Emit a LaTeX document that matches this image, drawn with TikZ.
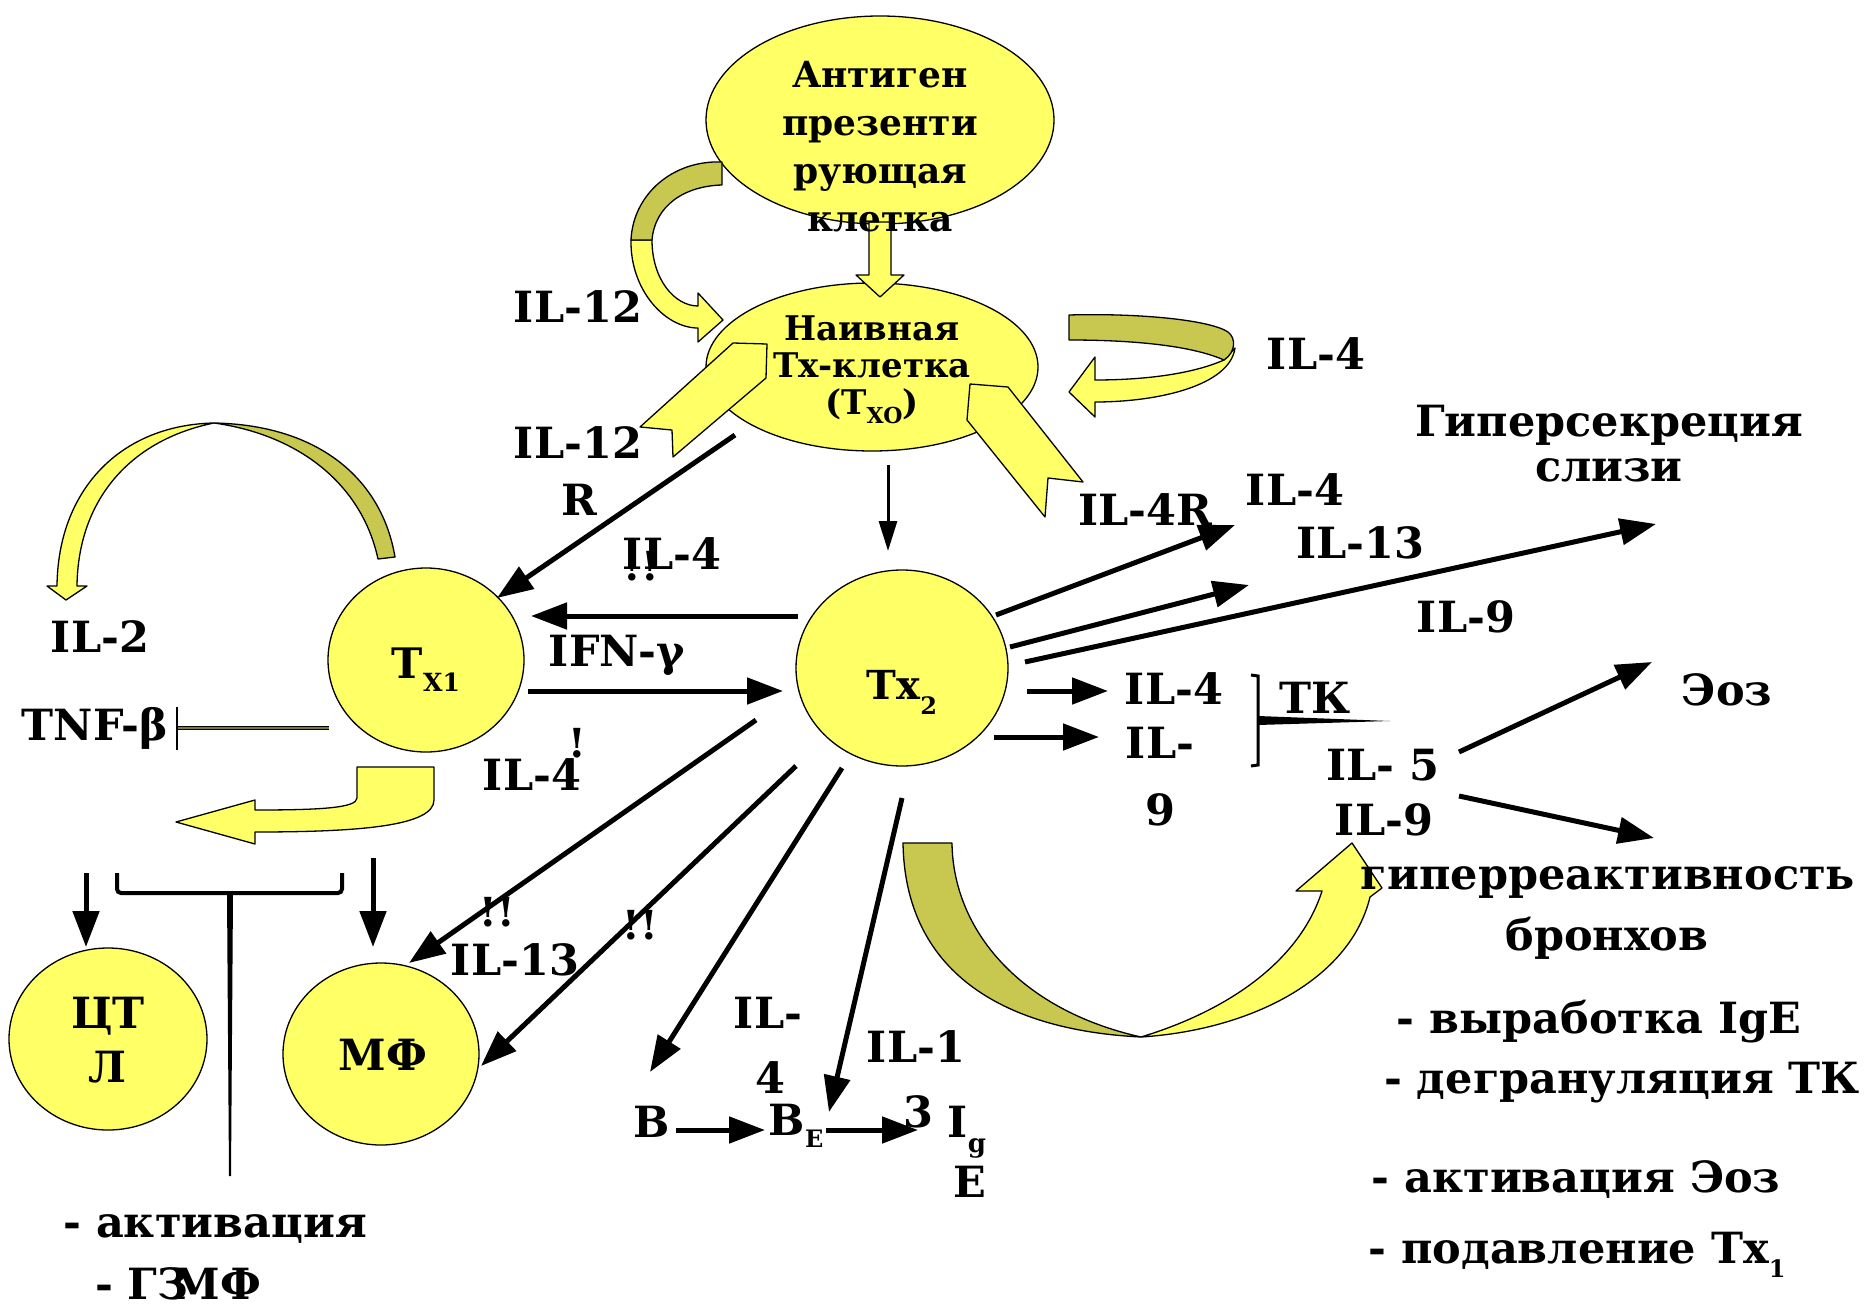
\documentclass[tikz,border=0pt]{standalone}
\usepackage{fontspec}
\setmainfont{DejaVu Serif}
\usetikzlibrary{arrows.meta,calc,shapes.geometric}
\definecolor{cellfill}{HTML}{FFFF66}
\definecolor{backside}{HTML}{C8C850}
\definecolor{tnfline}{HTML}{7A7A3A}

\begin{document}
\begin{tikzpicture}[x=1pt,y=-1pt,
  cell/.style={ellipse,draw=black,line width=1.3pt,fill=cellfill,inner sep=0pt},
  lab/.style={font=\bfseries\fontsize{43}{45}\selectfont,inner sep=0pt},
  celltext/.style={font=\bfseries\fontsize{36}{48}\selectfont,align=center,inner sep=0pt},
  excl/.style={font=\bfseries\fontsize{40}{40}\selectfont,inner sep=0pt},
  band/.style={draw=black,line width=1.3pt,line join=round},
  flow/.style={draw=black,line width=5pt,-{Triangle[length=36pt,width=26pt]}},
  thinflow/.style={draw=black,line width=3pt,-{Triangle[length=30pt,width=18pt]}}
]
\useasboundingbox (0,0) rectangle (1868,1308);
\node[cell,minimum width=348pt,minimum height=208pt] (apc) at (880,120) {};
\node[cell,minimum width=332pt,minimum height=168pt] (naive) at (872,367) {};
\node[cell,minimum width=196pt,minimum height=184pt] (th1) at (426,660) {};
\node[cell,minimum width=212pt,minimum height=196pt] (th2) at (902,668) {};
\node[cell,minimum width=198pt,minimum height=182pt] (ctl) at (108,1039) {};
\node[cell,minimum width=196pt,minimum height=182pt] (mf) at (381,1054) {};

\filldraw[band,fill=cellfill] (869,222) -- (891,222) -- (891,275) -- (904,275)
  -- (880,297) -- (856,275) -- (869,275) -- cycle;
\filldraw[band,fill=cellfill] (631,240) .. controls (630,290) and (665,328) .. (698,328)
  -- (698,342) -- (723,320) -- (698,293) -- (698,306)
  .. controls (675,306) and (652,280) .. (652,240) -- cycle;
\filldraw[band,fill=backside] (722,162) .. controls (672,160) and (633,195) .. (631,240)
  -- (652,240) .. controls (655,205) and (685,186) .. (722,185) -- cycle;
\filldraw[band,fill=cellfill] (1224,360) .. controls (1190,375) and (1140,380) .. (1095,380)
  -- (1095,357) -- (1069,392) -- (1095,417) -- (1095,402)
  .. controls (1160,402) and (1230,385) .. (1235,348) -- cycle;
\filldraw[band,fill=backside] (1069,315) .. controls (1140,313) and (1210,320) .. (1228,332)
  .. controls (1236,338) and (1236,352) .. (1224,360)
  .. controls (1190,345) and (1130,340) .. (1069,340) -- cycle;
\filldraw[band,fill=backside] (395,557) .. controls (382,480) and (320,425) .. (214,423)
  .. controls (300,435) and (362,485) .. (378,559) -- cycle;
\filldraw[band,fill=cellfill] (214,423) .. controls (120,425) and (58,490) .. (57,586)
  -- (47,586) -- (66,600) -- (87,586) -- (77,586)
  .. controls (78,500) and (130,440) .. (214,423) -- cycle;
\filldraw[band,fill=cellfill] (357,767) -- (434,767) -- (434,800)
  .. controls (434,826) and (360,832) .. (255,832) -- (255,844) -- (176,822)
  -- (255,800) -- (255,810) .. controls (320,810) and (357,808) .. (357,798) -- cycle;
\filldraw[band,fill=backside] (903,843) -- (952,843)
  .. controls (953,930) and (1020,1010) .. (1141,1037)
  .. controls (1000,1030) and (905,970) .. (903,843) -- cycle;
\filldraw[band,fill=cellfill] (1141,1037) .. controls (1250,1030) and (1350,980) .. (1370,897)
  -- (1382,888) -- (1352,843) -- (1296,891) -- (1322,891)
  .. controls (1300,960) and (1230,1010) .. (1141,1037) -- cycle;
\filldraw[band,fill=cellfill] (767,344) -- (766,378) -- (673,457) -- (672,430)
  -- (640,427) -- (733,343) -- cycle;
\filldraw[band,fill=cellfill] (970,384) -- (1008,387) -- (1083,482) -- (1048,478)
  -- (1045,517) -- (967,420) -- cycle;

\node[celltext] (apctext) at (880,147) {Антиген\\презенти\\рующая\\клетка};
\node[celltext,font=\bfseries\fontsize{34}{37}\selectfont] (naivetext) at (872,370)
  {Наивная\\Тх-клетка\\(Т\raisebox{-9pt}{\fontsize{22}{22}\selectfont XO})};
\node[lab,font=\bfseries\fontsize{42}{44}\selectfont] (th1text) at (426,670)
  {Т\raisebox{-13pt}{\fontsize{25}{25}\selectfont X1}};
\node[lab,font=\bfseries\fontsize{40}{44}\selectfont] (th2text) at (902,692)
  {Тх\raisebox{-15pt}{\fontsize{24}{24}\selectfont 2}};
\node[lab,align=center] (ctltext) at (108,1040) {ЦТ\\[9pt]Л};
\node[lab] (mftext) at (383,1055) {МФ};

\node[lab] (il12a) at (578,307) {IL-12};
\node[lab] (il12b) at (578,443) {IL-12};
\node[lab] (il12r) at (579,500) {R};
\node[lab] (il4loop) at (1316,354) {IL-4};
\node[lab] (il4top) at (672,554) {IL-4};
\node[excl] (warn1) at (641,566) {!!};
\node[lab] (il2) at (100,637) {IL-2};
\node[lab] (tnf) at (95,728) {TNF-β};
\node[lab] (ifn) at (617,655) {IFN-γ};
\node[lab] (il4bot) at (532,775) {IL-4};
\node[excl] (warn2) at (577,743) {!};
\node[lab] (il4r) at (1145,510) {IL-4R};
\node[lab] (il4up) at (1295,490) {IL-4};
\node[lab] (il13up) at (1360,543) {IL-13};
\node[lab] (il9up) at (1466,617) {IL-9};
\node[lab,align=center] (mucus) at (1609,444) {Гиперсекреция\\слизи};
\node[lab] (il4mid) at (1174,689) {IL-4};
\node[lab] (il9mid) at (1160,743) {IL-};
\node[lab] (il9mid2) at (1160,810) {9};
\node[lab] (tk) at (1315,698) {ТК};
\node[lab] (il5) at (1383,765) {IL- 5};
\node[lab] (il9low) at (1384,820) {IL-9};
\node[lab] (eos) at (1727,690) {Эоз};
\node[lab] (hyper) at (1608,882) {гиперреактивность};
\node[lab] (bronch) at (1607,938) {бронхов};
\node[lab] (ige1) at (1599,1022) {- выработка IgE};
\node[lab] (degr) at (1622,1083) {- дегрануляция ТК};
\node[lab] (eosact) at (1576,1180) {- активация Эоз};
\node[lab] (supp) at (1577,1255) {- подавление Тх\raisebox{-14pt}{\fontsize{24}{24}\selectfont 1}};
\node[excl] (warn3) at (497,912) {!!};
\node[lab] (il13low) at (515,960) {IL-13};
\node[excl] (warn4) at (640,925) {!!};
\node[lab] (il4b) at (768,1013) {IL-};
\node[lab] (il4b2) at (770,1078) {4};
\node[lab] (il13b) at (916,1047) {IL-1};
\node[lab] (il13b2) at (918,1112) {3};
\node[lab] (bcell) at (652,1122) {B};
\node[lab] (becell) at (796,1126) {B\raisebox{-12pt}{\fontsize{24}{24}\selectfont E}};
\node[lab] (igi) at (958,1122) {I};
\node[lab,font=\bfseries\fontsize{26}{26}\selectfont] (igg) at (977,1148) {g};
\node[lab] (ige) at (970,1182) {E};
\node[lab] (mfact) at (215,1229) {- активация};
\node[lab] (gzmf) at (178,1284) {- ГЗ\kern-16ptМФ};

\draw[flow] ([shift={(-137,68)}]naive.center) -- ([shift={(71,-62)}]th1.center);
\draw[thinflow] ([shift={(16,98)}]naive.center) -- ([shift={(-14,-117)}]th2.center);
\draw[flow] ([shift={(-104,-52)}]th2.center) -- ([shift={(105,-44)}]th1.center);
\draw[flow] ([shift={(102,31)}]th1.center) -- ([shift={(-119,23)}]th2.center);
\draw[flow] ([shift={(94,-53)}]th2.center) -- ([shift={(-60,35)}]il4up.center);
\draw[flow] ([shift={(108,-21)}]th2.center) -- ([shift={(-111,42)}]il13up.center);
\draw[flow] ([shift={(123,-6)}]th2.center) -- ([shift={(47,80)}]mucus.center);
\draw[flow] ([shift={(125,23)}]th2.center) -- ([shift={(-66,2)}]il4mid.center);
\draw[flow] ([shift={(92,69)}]th2.center) -- ([shift={(-61,-6)}]il9mid.center);
\draw[flow] ([shift={(-146,52)}]th2.center) -- ([shift={(28,-91)}]mf.center);
\draw[flow] ([shift={(-106,98)}]th2.center) -- ([shift={(100,12)}]mf.center);
\draw[flow] ([shift={(-60,100)}]th2.center) -- ([shift={(-2,-50)}]bcell.center);
\draw[flow] ([shift={(0,130)}]th2.center) -- ([shift={(33,-14)}]becell.center);
\draw[flow] ([shift={(24,8)}]bcell.center) -- ([shift={(-31,4)}]becell.center);
\draw[flow] ([shift={(30,4)}]becell.center) -- ([shift={(-40,8)}]igi.center);
\draw[flow] ([shift={(76,-13)}]il5.center) -- ([shift={(-75,-28)}]eos.center);
\draw[flow] ([shift={(75,-24)}]il9low.center) -- ([shift={(46,-44)}]hyper.center);
\draw[flow] ([shift={(-22,-166)}]ctl.center) -- ([shift={(-22,-92)}]ctl.center);
\draw[flow] ([shift={(-8,-196)}]mf.center) -- ([shift={(-8,-107)}]mf.center);

\draw[black,line width=.8pt,double=tnfline,double distance=2.8pt]
  ([shift={(-97,68)}]th1.center) -- ([shift={(82,0)}]tnf.center);
\draw[line width=1.2pt] ([shift={(82,-21)}]tnf.center) -- ([shift={(82,22)}]tnf.center);
\draw[line width=3pt] (1251,675) -- (1258,676) -- (1258,765) -- (1251,766);
\fill (1258,716) -- (1390,721) -- (1258,725) -- cycle;
\draw[line width=4pt,rounded corners=4pt] (117,873) -- (117,893) -- (342,893) -- (342,873);
\fill (227,893) -- (233,893) -- (231,1176) -- (229,1176) -- cycle;
\end{tikzpicture}
\end{document}
